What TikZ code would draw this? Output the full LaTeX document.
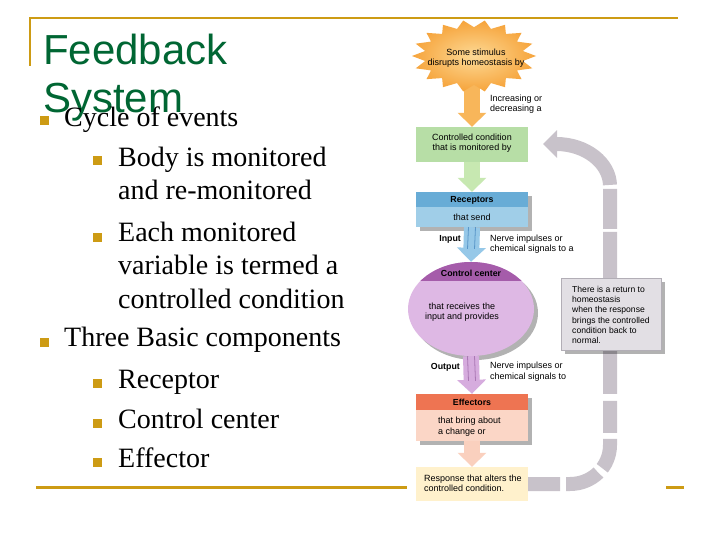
\documentclass[tikz,border=0pt]{standalone}
\usepackage{fontspec}
\setmainfont{Liberation Serif}
\newfontfamily\diagfont{Liberation Sans}
\usetikzlibrary{arrows.meta,shadows,calc,shapes.geometric}
\definecolor{gold}{RGB}{205,155,20}
\definecolor{titlegreen}{RGB}{0,102,51}
\definecolor{burstin}{RGB}{253,218,150}
\definecolor{burstout}{RGB}{246,164,60}
\definecolor{orarrow}{RGB}{248,182,90}
\definecolor{ccgreen}{RGB}{183,222,166}
\definecolor{greenarrow}{RGB}{199,232,177}
\definecolor{recdark}{RGB}{104,172,214}
\definecolor{reclight}{RGB}{160,206,232}
\definecolor{inarrow}{RGB}{150,200,232}
\definecolor{inlinec}{RGB}{90,150,200}
\definecolor{ccdark}{RGB}{165,92,170}
\definecolor{cclight}{RGB}{222,184,228}
\definecolor{outarrow}{RGB}{214,172,222}
\definecolor{outlinec}{RGB}{170,120,180}
\definecolor{effdark}{RGB}{238,116,82}
\definecolor{efflight}{RGB}{251,214,198}
\definecolor{effarrow}{RGB}{250,208,190}
\definecolor{respyellow}{RGB}{255,241,204}
\definecolor{fbgray}{RGB}{200,194,202}
\definecolor{graybox}{RGB}{226,223,228}
\definecolor{grayborder}{RGB}{178,174,182}
\begin{document}
\begin{tikzpicture}[x=1pt,y=-1pt,
  goldline/.style={draw=gold,line width=2.5pt},
  bul/.style={rectangle,fill=gold,minimum size=9pt,inner sep=0pt},
  bodytext/.style={anchor=base west,align=left,inner sep=0pt,font=\fontsize{28}{33.3}\selectfont},
  titletext/.style={anchor=base west,align=left,inner sep=0pt,text=titlegreen,font=\diagfont\fontsize{42}{48}\selectfont},
  box/.style={rectangle,minimum width=112pt,inner sep=0pt,align=center},
  shadowed/.style={drop shadow={shadow xshift=4pt,shadow yshift=-4pt,fill=black,opacity=0.3}},
  txt/.style={inner sep=0pt,align=center,font=\diagfont\fontsize{9}{10}\selectfont},
  ltxt/.style={inner sep=0pt,align=left,anchor=west,font=\diagfont\fontsize{9}{10.4}\selectfont},
  lbl/.style={inner sep=0pt,font=\diagfont\bfseries\fontsize{8.8}{10}\selectfont},
  blockarrow/.style={line width=16pt,-{Triangle[width=28pt,length=14pt]}},
  stripe/.style={line width=0.8pt},
  fb/.style={draw=fbgray,line width=14pt,
    dash pattern=on 32pt off 6pt on 35pt off 6pt on 31pt off 6pt on 32pt off 7pt on 162pt off 3pt on 40pt off 4pt on 400pt off 1pt,
    -{Triangle[width=27pt,length=14pt]}}
]
\useasboundingbox (0,0) rectangle (720,540);
\fill[white] (0,0) rectangle (720,540);

% frame lines
\draw[goldline] (30,66) -- (30,18) -- (678,18);
\draw[goldline,line width=3pt] (36,487) -- (407,487);
\draw[goldline,line width=3pt] (666,487) -- (684,487);

% title (base anchor = baseline of the last line)
\node[titletext] (title) at (43,113) {Feedback\\System};

% bullets
\node[bul] (b1) at (44.5,121) {};
\node[bodytext] (t1) at (64,127) {Cycle of events};
\node[bul] (b2) at (97.5,161) {};
\node[bodytext] (t2) at (118,199.5) {Body is monitored\\and re-monitored};
\node[bul] (b3) at (97.5,237) {};
\node[bodytext] (t3) at (118,308) {Each monitored\\variable is termed a\\controlled condition};
\node[bul] (b4) at (44.5,342) {};
\node[bodytext] (t4) at (64,346.7) {Three Basic components};
\node[bul] (b5) at (97.5,383) {};
\node[bodytext] (t5) at (118,388) {Receptor};
\node[bul] (b6) at (97.5,423) {};
\node[bodytext] (t6) at (118,428) {Control center};
\node[bul] (b7) at (97.5,462) {};
\node[bodytext] (t7) at (118,467) {Effector};

% diagram boxes
\node[box,minimum height=35pt,fill=ccgreen] (cc) at (472,144.5) {};
\node[box,minimum height=35pt,fill=reclight,shadowed,
  path picture={\fill[recdark] (path picture bounding box.north west) rectangle ($(path picture bounding box.north east)+(0,15)$);}] (rec) at (472,209.5) {};
\node[ellipse,minimum width=126pt,minimum height=94pt,inner sep=0pt,fill=cclight,shadowed,
  path picture={\fill[ccdark] (path picture bounding box.north west) rectangle ($(path picture bounding box.north east)+(0,19)$);}] (ctrl) at (471,309) {};
\node[box,minimum height=47pt,fill=efflight,shadowed,
  path picture={\fill[effdark] (path picture bounding box.north west) rectangle ($(path picture bounding box.north east)+(0,16)$);}] (eff) at (472,417.5) {};
\node[box,minimum height=34pt,fill=respyellow] (resp) at (472,484) {};

% feedback loop
\coordinate (fbend) at (543,144);
\draw[fb] (resp.east) -- (570,484) .. controls (592,484) and (610,467) .. (610,445)
  -- (610,186) .. controls (610,163) and (586,144) .. (fbend);
\node[rectangle,minimum width=100pt,minimum height=72pt,fill=graybox,draw=grayborder,line width=0.6pt,shadowed] (ret) at (611,314) {};
\node[ltxt,font=\diagfont\fontsize{8.6}{10.2}\selectfont] (rett) at (572,315) {There is a return to\\homeostasis\\when the response\\brings the controlled\\condition back to\\normal.};

% stimulus burst and block arrows
\coordinate (burstbot) at (472,80);
\draw[blockarrow,draw=orarrow] (burstbot) -- (cc.north);
\shade[inner color=burstin,outer color=burstout]
  plot[domain=0:35,samples=36,variable=\k]
  ({474+62*(1-0.2*mod(round(\k),2))*cos(\k*10)},{56+36*(1-0.2*mod(round(\k),2))*sin(\k*10)}) -- cycle;
\node[txt] (stim) at (476,58) {Some stimulus\\disrupts homeostasis by};

\draw[blockarrow,draw=greenarrow] (cc.south) -- (rec.north);
\draw[blockarrow,draw=inarrow] (rec.south) -- (ctrl.north);
\draw[stripe,draw=inlinec] ($(rec.south)+(-3.5,0)$) -- ($(ctrl.north)+(-3.5,-13)$);
\draw[stripe,draw=inlinec] ($(rec.south)+(3.5,0)$) -- ($(ctrl.north)+(3.5,-13)$);
\draw[blockarrow,draw=outarrow] (ctrl.south) -- (eff.north);
\draw[stripe,draw=outlinec] ($(ctrl.south)+(-3.5,0)$) -- ($(eff.north)+(-3.5,-13)$);
\draw[stripe,draw=outlinec] ($(ctrl.south)+(3.5,0)$) -- ($(eff.north)+(3.5,-13)$);
\draw[blockarrow,draw=effarrow] (eff.south) -- (resp.north);

% diagram texts
\node[txt] (cct) at (472,143.5) {Controlled condition\\that is monitored by};
\node[lbl] (recl) at (472,200) {Receptors};
\node[txt] (rect) at (472,217) {that send};
\node[lbl] (ctrll) at (471,273) {Control center};
\node[txt] (ctrlt) at (462,312) {that receives the\\input and provides};
\node[lbl] (effl) at (472,402) {Effectors};
\node[ltxt] (efft) at (438,426.5) {that bring about\\a change or};
\node[ltxt] (respt) at (424,483.5) {Response that alters the\\controlled condition.};
\node[ltxt] (incr) at (490,104) {Increasing or\\decreasing a};
\node[lbl,anchor=east] (inl) at (461,239) {Input};
\node[ltxt] (inr) at (490,244) {Nerve impulses or\\chemical signals to a};
\node[lbl,anchor=east] (outl) at (460,367) {Output};
\node[ltxt] (outr) at (490,371.5) {Nerve impulses or\\chemical signals to};
\end{tikzpicture}
\end{document}
